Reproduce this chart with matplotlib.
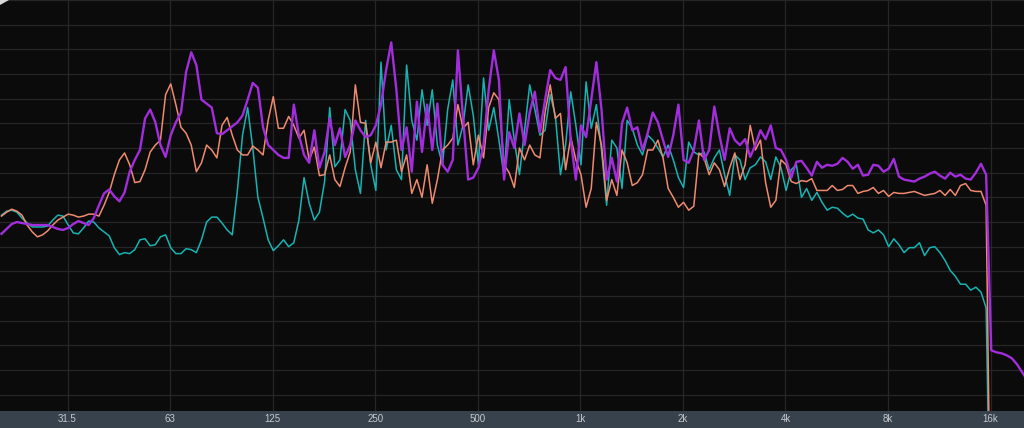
import matplotlib
matplotlib.use("Agg")
import matplotlib.pyplot as plt
from matplotlib.patches import Polygon

# analyzer bins: 1/20 octave, starting at 20 Hz
octave_steps = [1.0, 1.0353, 1.0718, 1.1096, 1.1487, 1.1892, 1.2311, 1.2746, 1.3195, 1.3660,
                1.4142, 1.4641, 1.5157, 1.5692, 1.6245, 1.6818, 1.7411, 1.8025, 1.8661, 1.9319]
octave_starts = [20, 40, 80, 160, 320, 640, 1280, 2560, 5120, 10240]
last_bin = 20480
freqs = [s * r for s in octave_starts for r in octave_steps] + [last_bin]

# levels in dB (-60 = below the floor, after the low-pass)
level_teal = [
    -21.8, -21.4, -21.3, -21.5, -22.1, -22.6, -23.0, -23.0, -23.0, -22.9,
    -22.3, -21.8, -21.9, -22.8, -23.6, -23.7, -23.1, -22.4, -22.5, -23.1,
    -23.5, -23.9, -25.1, -25.8, -25.6, -25.7, -25.3, -24.3, -24.2, -24.9,
    -24.8, -24.0, -23.8, -25.1, -25.7, -25.7, -25.2, -25.3, -25.6, -24.3,
    -22.5, -22.0, -22.0, -22.6, -23.3, -23.8, -19.3, -13.7, -10.9, -15.0,
    -20.0, -22.1, -24.3, -25.4, -24.9, -24.3, -25.0, -24.6, -22.3, -18.0,
    -20.6, -22.3, -21.5, -18.4, -10.9, -16.9, -16.2, -11.1, -12.2, -17.2,
    -19.6, -12.2, -16.7, -19.3, -6.3, -15.2, -12.7, -17.2, -18.2, -6.6,
    -12.2, -14.2, -9.1, -12.7, -9.1, -14.7, -16.7, -11.1, -8.1, -14.7,
    -12.7, -8.6, -11.7, -16.7, -7.9, -13.2, -10.9, -14.2, -17.9, -10.1,
    -14.2, -17.7, -13.2, -8.6, -11.1, -13.7, -13.2, -9.6, -11.7, -17.7,
    -14.7, -9.3, -12.7, -16.7, -8.3, -13.0, -10.6, -15.2, -20.8, -14.2,
    -15.0, -19.1, -12.2, -13.0, -14.7, -15.7, -13.7, -14.2, -15.0, -15.9,
    -14.7, -16.2, -18.0, -19.0, -14.4, -15.4, -15.7, -15.4, -17.2, -16.0,
    -15.2, -17.7, -19.8, -15.7, -16.2, -18.2, -17.0, -16.7, -15.9, -16.4,
    -18.2, -15.9, -17.0, -19.3, -17.2, -16.7, -20.0, -19.1, -20.3, -19.5,
    -20.5, -21.3, -21.0, -21.1, -21.6, -22.0, -21.7, -22.1, -22.2, -23.3,
    -23.6, -23.3, -23.8, -25.0, -24.2, -24.8, -25.6, -25.1, -25.1, -24.6,
    -25.9, -25.1, -25.0, -25.6, -26.4, -27.4, -28.0, -28.8, -28.8, -29.4,
    -29.1, -29.6, -31.2, -60, -60, -60, -60, -60, -60, -60,
    -60]

level_orange = [
    -21.9, -21.5, -21.2, -21.4, -21.8, -22.8, -23.5, -24.0, -23.8, -23.4,
    -22.8, -22.3, -22.0, -21.7, -21.8, -22.0, -21.9, -21.7, -21.7, -21.9,
    -20.8, -19.5, -17.7, -16.2, -15.5, -16.7, -18.5, -18.4, -17.2, -15.4,
    -14.7, -14.2, -9.6, -8.5, -10.6, -12.9, -13.5, -14.7, -17.4, -16.5,
    -14.7, -15.2, -16.0, -12.7, -11.9, -13.7, -15.2, -15.7, -15.7, -14.8,
    -15.2, -15.7, -12.2, -9.8, -13.0, -13.0, -11.8, -12.7, -14.0, -13.2,
    -16.2, -14.9, -17.8, -17.7, -15.7, -18.2, -18.9, -17.0, -15.4, -8.6,
    -12.4, -12.5, -16.5, -14.4, -17.0, -14.4, -14.4, -14.2, -17.4, -15.7,
    -19.6, -18.2, -20.0, -16.7, -20.6, -18.2, -15.2, -14.7, -14.0, -10.6,
    -13.0, -12.4, -16.7, -13.7, -16.0, -10.9, -9.4, -10.1, -16.7, -17.5,
    -19.0, -15.0, -16.2, -14.7, -15.7, -16.0, -11.4, -8.6, -12.0, -11.5,
    -17.2, -13.9, -16.2, -17.7, -21.0, -19.1, -12.4, -14.7, -20.3, -18.2,
    -19.8, -15.2, -16.5, -18.8, -18.5, -17.7, -15.2, -15.2, -14.2, -16.0,
    -19.1, -20.0, -21.0, -20.5, -21.3, -20.9, -15.5, -16.0, -17.7, -16.5,
    -17.2, -18.9, -17.0, -15.5, -18.2, -16.7, -12.7, -15.2, -14.2, -18.5,
    -21.0, -20.3, -16.2, -16.7, -18.4, -18.6, -18.3, -18.4, -18.1, -19.3,
    -19.3, -19.3, -18.8, -19.3, -19.2, -18.8, -18.8, -19.6, -19.4, -19.3,
    -19.0, -19.6, -19.3, -19.9, -19.5, -19.6, -19.6, -19.5, -19.4, -19.6,
    -19.8, -19.7, -19.6, -19.3, -19.8, -19.2, -19.8, -18.8, -18.6, -19.3,
    -19.4, -19.4, -20.8, -60, -60, -60, -60, -60, -60, -60,
    -60]

level_purple = [
    -23.7, -23.2, -22.7, -22.5, -22.6, -22.7, -22.8, -22.8, -22.8, -22.8,
    -23.0, -23.2, -23.3, -23.1, -22.7, -22.4, -22.6, -22.8, -22.1, -20.8,
    -19.6, -19.2, -19.9, -20.4, -19.5, -17.4, -16.2, -15.2, -12.0, -11.1,
    -12.4, -14.7, -15.9, -13.7, -12.4, -11.4, -7.3, -5.3, -6.6, -10.1,
    -10.5, -10.9, -13.5, -13.6, -13.2, -12.8, -12.4, -11.7, -10.1, -8.4,
    -8.9, -12.9, -14.7, -15.2, -15.7, -16.0, -16.0, -10.6, -13.7, -15.7,
    -16.5, -13.2, -17.0, -15.4, -12.0, -14.7, -13.0, -15.9, -14.7, -12.2,
    -13.2, -13.9, -13.7, -12.7, -10.6, -7.1, -4.3, -9.1, -15.2, -12.9,
    -17.4, -10.3, -15.4, -10.6, -15.2, -10.5, -16.7, -17.4, -16.2, -5.1,
    -11.9, -18.2, -18.0, -17.0, -14.7, -9.1, -5.1, -8.1, -18.2, -13.4,
    -15.0, -11.5, -14.7, -11.4, -9.3, -13.4, -10.1, -7.1, -7.9, -8.1,
    -6.8, -14.2, -18.2, -12.7, -13.9, -10.1, -6.3, -11.1, -18.2, -16.0,
    -18.4, -12.5, -10.9, -13.2, -12.9, -15.2, -13.5, -11.4, -12.4, -14.2,
    -15.9, -13.7, -10.6, -16.2, -16.5, -15.2, -12.2, -16.2, -15.2, -10.8,
    -13.7, -16.2, -13.0, -14.2, -14.7, -14.1, -15.9, -14.7, -13.2, -14.1,
    -12.7, -15.0, -15.2, -16.2, -18.0, -16.4, -16.3, -17.0, -17.8, -16.4,
    -17.0, -16.7, -16.8, -16.6, -16.0, -16.4, -17.1, -16.7, -17.8, -17.7,
    -16.7, -16.8, -17.4, -17.1, -16.1, -17.9, -18.2, -18.3, -18.4, -18.1,
    -17.9, -17.6, -17.4, -17.8, -18.1, -17.5, -17.9, -17.7, -18.1, -18.2,
    -17.5, -16.6, -17.7, -35.5, -35.7, -35.8, -36.0, -36.3, -36.9, -37.7,
    -38.5]

tick_freqs = [31.25, 62.5, 125, 250, 500, 1000, 2000, 4000, 8000, 16000]
tick_labels = ["31.5", "63", "125", "250", "500", "1k", "2k", "4k", "8k", "16k"]

fig = plt.figure(figsize=(10.24, 4.28), dpi=100, facecolor="#37424c")
ax = fig.add_axes([0, 17 / 428, 1, 411 / 428])
ax.set_facecolor("#0b0b0b")

ax.set_xscale("log")
ax.set_xlim(19.8, 20050)
ax.set_ylim(-41.65, 0)

# grid
for db in range(0, 42 * 2, 5):
    ax.axhline(-db / 2, color="#262626", lw=0.9, zorder=1)
for f in tick_freqs:
    ax.axvline(f, color="#262626", lw=0.9, zorder=1)

ax.plot(freqs, level_teal, color="#17b3b3", lw=1.1, zorder=3)
ax.plot(freqs, level_orange, color="#ef8a70", lw=1.1, zorder=4)
ax.plot(freqs, level_purple, color="#a22ddc", lw=1.7, zorder=5)

ax.set_xticks(tick_freqs)
ax.set_xticklabels(tick_labels, fontsize=7, color="#c4c8cc", family="Liberation Sans")
ax.xaxis.set_minor_locator(matplotlib.ticker.NullLocator())
ax.tick_params(axis="x", length=0, pad=2.5)
ax.set_yticks([])
for s in ax.spines.values():
    s.set_visible(False)

# little cursor mark in the top-left corner
fig.patches.append(Polygon([[0, 1], [9 / 1024, 1], [0, 1 - 5 / 428]], closed=True,
                           transform=fig.transFigure, facecolor="#d8d8d8",
                           edgecolor="none", zorder=10))

fig.savefig("out.png", dpi=100, facecolor=fig.get_facecolor())
